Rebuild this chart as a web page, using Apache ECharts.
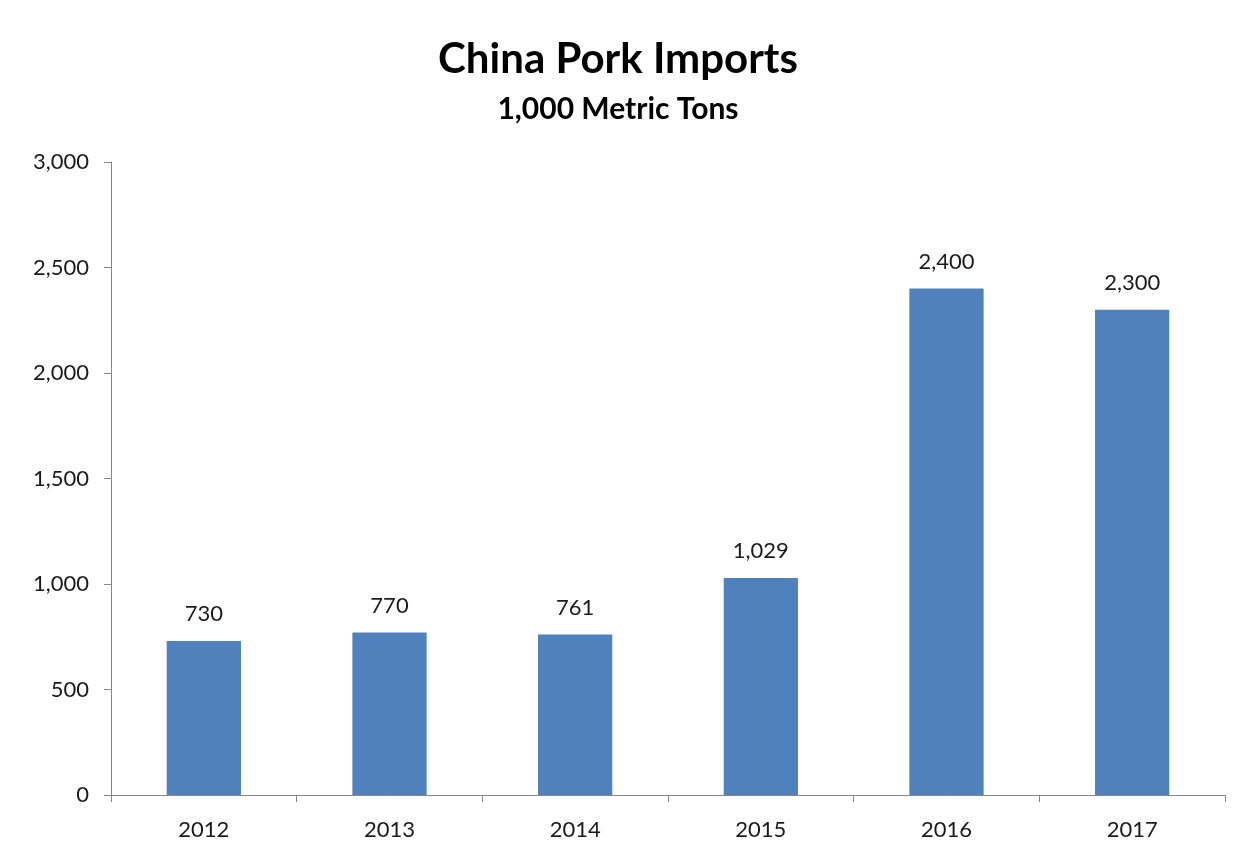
<!DOCTYPE html>
<html>
  <head>
    <meta charset="UTF-8">
    <title>China Pork Imports</title>
    <script src="https://cdn.jsdelivr.net/npm/echarts@6/dist/echarts.min.js"></script>
    <style>
    * {
      margin: 0;
      padding: 0;
    }
    </style>
  </head>
  <body>
    <div id="main" style="width: 1236px;height: 857px"></div>
    <script>
var years = ['2012', '2013', '2014', '2015', '2016', '2017']
var imports = [730, 770, 761, 1029, 2400, 2300]

var font = 'Lato, "Open Sans", sans-serif'
var fmt = function(v) {
  return Number(v).toLocaleString('en-US')
}

var myChart = echarts.init(document.getElementById('main'))
myChart.setOption({
  backgroundColor: '#fff',
  animation: false,
  title: {
    text: 'China Pork Imports',
    subtext: '1,000 Metric Tons',
    left: 'center',
    top: 33,
    itemGap: 14,
    textStyle: { fontFamily: font, fontSize: 42, fontWeight: 'bold', color: '#000' },
    subtextStyle: { fontFamily: font, fontSize: 30, fontWeight: 'bold', color: '#000' }
  },
  grid: { left: 111, right: 11, top: 162, bottom: 62 },
  xAxis: {
    type: 'category',
    data: years,
    axisLine: { lineStyle: { color: '#868686' } },
    axisTick: { show: true, alignWithLabel: false, length: 7, lineStyle: { color: '#868686' } },
    axisLabel: { fontFamily: font, fontSize: 22, color: '#1a1a1a', margin: 24 }
  },
  yAxis: {
    type: 'value',
    min: 0,
    max: 3000,
    interval: 500,
    axisLine: { show: true, lineStyle: { color: '#868686' } },
    axisTick: { show: true, length: 7, lineStyle: { color: '#868686' } },
    splitLine: { show: false },
    axisLabel: { fontFamily: font, fontSize: 22, color: '#1a1a1a', margin: 22, formatter: fmt }
  },
  series: [{
    type: 'bar',
    data: imports,
    barWidth: '40%',
    itemStyle: { color: '#4F81BD' },
    label: {
      show: true,
      position: 'top',
      distance: 16,
      fontFamily: font,
      fontSize: 22,
      color: '#1a1a1a',
      formatter: function(p) { return fmt(p.value) }
    }
  }]
})
    </script>
  </body>
</html>
